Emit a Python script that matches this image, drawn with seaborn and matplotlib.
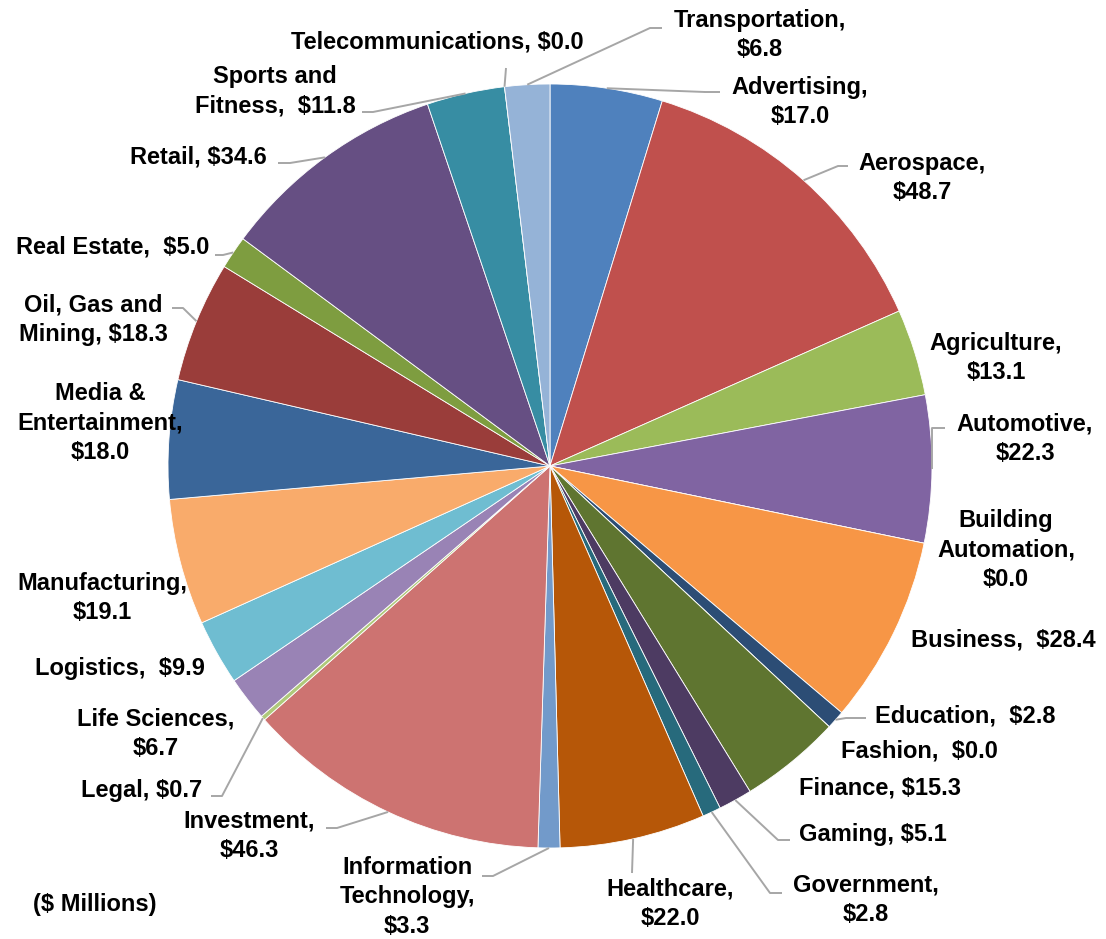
import numpy as np
import seaborn as sns
import matplotlib.pyplot as plt

# Data ($ Millions), clockwise from 12 o'clock
industries = ["Advertising", "Aerospace", "Agriculture", "Automotive", "Building Automation",
              "Business", "Education", "Fashion", "Finance", "Gaming", "Government",
              "Healthcare", "Information Technology", "Investment", "Legal", "Life Sciences",
              "Logistics", "Manufacturing", "Media & Entertainment", "Oil, Gas and Mining",
              "Real Estate", "Retail", "Sports and Fitness", "Telecommunications", "Transportation"]
values = [17.0, 48.7, 13.1, 22.3, 0.0, 28.4, 2.8, 0.0, 15.3, 5.1, 2.8, 22.0, 3.3, 46.3, 0.7,
          6.7, 9.9, 19.1, 18.0, 18.3, 5.0, 34.6, 11.8, 0.0, 6.8]
# label text as it appears in the chart (line breaks / spacing)
label_text = ["Advertising,\n$17.0", "Aerospace,\n$48.7", "Agriculture,\n$13.1", "Automotive,\n$22.3",
              "Building\nAutomation,\n$0.0", "Business,  $28.4", "Education,  $2.8", "Fashion,  $0.0",
              "Finance, $15.3", "Gaming, $5.1", "Government,\n$2.8", "Healthcare,\n$22.0",
              "Information\nTechnology,\n$3.3", "Investment,\n$46.3", "Legal, $0.7", "Life Sciences,\n$6.7",
              "Logistics,  $9.9", "Manufacturing,\n$19.1", "Media &\nEntertainment,\n$18.0",
              "Oil, Gas and\nMining, $18.3", "Real Estate,  $5.0", "Retail, $34.6",
              "Sports and\nFitness,  $11.8", "Telecommunications, $0.0", "Transportation,\n$6.8"]

colors = ["#4F81BD", "#C0504D", "#9BBB59", "#8064A2", "#4BACC6", "#F79646",
          "#2C4D75", "#772C2A", "#5F7530", "#4D3B62", "#276A7C", "#B65708",
          "#729ACA", "#CD7371", "#AFC97A", "#9983B5", "#6FBDD1", "#F9AB6B",
          "#3A6699", "#9A3D3A", "#7E9D40", "#664F83", "#378DA3", "#C6783A", "#95B3D7"]

# layout (pixel coords, y from top)
W, H = 1106, 939
cx, cy, R = 550, 466, 382
label_pos = [(800, 102), (922, 178), (996, 358), (1025, 439), (1006, 550), (1003, 640),
             (965, 716), (919, 751), (880, 788), (873, 834), (866, 900), (670, 904),
             (407, 897), (249, 836), (142, 790), (156, 734), (120, 668), (102, 598),
             (100, 423), (93, 320), (113, 247), (198, 157), (275, 91), (437, 42), (760, 35)]
# leader line bends: list of points after the wedge anchor
leaders = {
    "Advertising": [(705, 92), (720, 92)],
    "Aerospace": [(838, 166), (848, 166)],
    "Automotive": [(932, 428), (945, 428)],
    "Education": [(846, 718), (866, 718)],
    "Gaming": [(778, 840), (790, 840)],
    "Government": [(770, 893), (782, 893)],
    "Healthcare": [(632, 873)],
    "Information Technology": [(493, 876), (482, 876)],
    "Investment": [(337, 828), (326, 828)],
    "Legal": [(222, 796), (211, 796)],
    "Oil, Gas and Mining": [(183, 308), (172, 308)],
    "Real Estate": [(223, 255), (215, 255)],
    "Retail": [(290, 163), (278, 163)],
    "Sports and Fitness": [(373, 112), (362, 112)],
    "Telecommunications": [(506, 68)],
    "Transportation": [(650, 28), (662, 28)],
}

sns.set_theme(style="white")
plt.rcParams["font.family"] = ["Liberation Sans", "DejaVu Sans"]

fig = plt.figure(figsize=(W / 100, H / 100), dpi=100)
ax = fig.add_axes([0, 0, 1, 1])

wedges, _ = ax.pie(values, colors=colors, startangle=90, counterclock=False,
                   center=(cx, H - cy), radius=R,
                   wedgeprops=dict(edgecolor="white", linewidth=0.6))

for w, name, txt, (lx, ly) in zip(wedges, industries, label_text, label_pos):
    ax.text(lx, H - ly, txt, ha="center", va="center", fontsize=17, fontweight="bold",
            color="black", linespacing=1.38)
    if name in leaders:
        mid = np.deg2rad((w.theta1 + w.theta2) / 2)
        xs = [cx + R * np.cos(mid)] + [p[0] for p in leaders[name]]
        ys = [H - cy + R * np.sin(mid)] + [H - p[1] for p in leaders[name]]
        ax.plot(xs, ys, color="#A6A6A6", lw=1.4, solid_capstyle="butt")

ax.text(95, H - 905, "($ Millions)", ha="center", va="center", fontsize=17,
        fontweight="bold", color="black")

ax.set_xlim(0, W)
ax.set_ylim(0, H)
ax.set_aspect("equal")
ax.axis("off")
fig.savefig("out.png", dpi=100, facecolor="white")
plt.close()
